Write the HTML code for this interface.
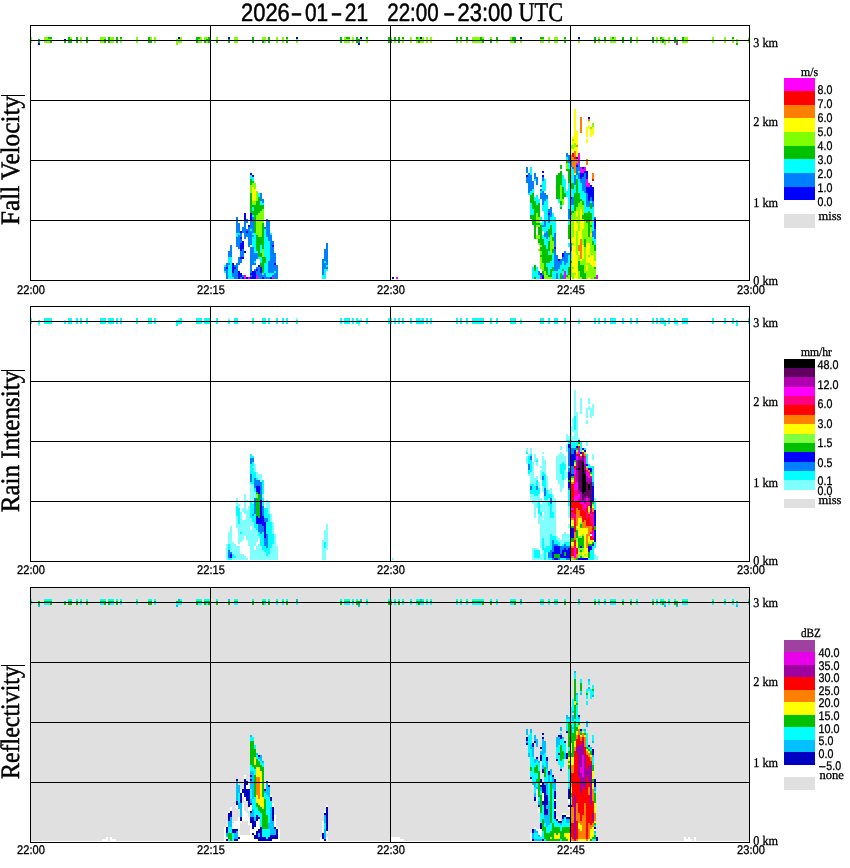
<!DOCTYPE html>
<html lang="en"><head><meta charset="utf-8"><title>2026-01-21 22:00-23:00 UTC</title>
<style>html,body{margin:0;padding:0;background:#fff}svg{display:block}</style></head>
<body>
<svg width="850" height="868" viewBox="0 0 850 868" shape-rendering="crispEdges" text-rendering="geometricPrecision">
<style>.sa{font-family:"Liberation Sans",sans-serif}.se{font-family:"Liberation Serif",serif}text{fill:#000}</style>
<rect x="0" y="0" width="850" height="868" fill="#ffffff"/>
<rect x="30" y="587" width="720" height="254" fill="#e0e0e0"/>
<g id="cells">
<path fill="#00c000" d="M208 37h2v2h-2zM286 37h2v2h-2zM564 37h2v2h-2zM560 165h2v4h-2zM250 179h2v2h-2zM250 183h2v2h-2zM562 187h2v6h-2zM560 171h2v2h-2zM574 193h6v6h-6zM250 193h2v12h-2zM560 201h2v4h-2zM570 183h4v6h-4zM538 203h2v2h-2zM530 201h6v2h-6zM532 203h4v2h-4zM584 213h8v2h-8zM262 41h2v2h-2zM532 205h8v4h-8zM588 211h2v2h-2zM534 213h2v2h-2zM568 171h2v12h-2zM588 223h2v2h-2zM540 225h2v2h-2zM548 235h2v2h-2zM540 37h4v2h-4zM256 201h4v4h-4zM262 223h2v14h-2zM594 37h2v6h-2zM552 237h2v4h-2zM258 197h2v4h-2zM570 213h2v2h-2zM534 225h2v14h-2zM262 245h2v4h-2zM552 249h2v4h-2zM568 225h2v14h-2zM594 245h2v6h-2zM562 197h2v2h-2zM550 225h2v4h-2zM560 207h2v2h-2zM548 229h4v6h-4zM566 161h2v2h-2zM534 265h2v6h-2zM594 267h2v2h-2zM48 37h4v2h-4zM68 37h2v2h-2zM76 37h2v6h-2zM86 37h2v6h-2zM108 37h2v6h-2zM116 37h2v6h-2zM120 37h2v2h-2zM148 37h2v4h-2zM196 37h4v2h-4zM208 41h2v2h-2zM252 37h2v6h-2zM268 37h2v6h-2zM286 41h2v2h-2zM340 37h2v6h-2zM346 37h4v2h-4zM356 37h2v2h-2zM366 37h2v2h-2zM388 37h2v2h-2zM394 37h2v4h-2zM398 37h2v6h-2zM402 37h2v2h-2zM416 37h2v2h-2zM456 37h2v4h-2zM460 37h2v2h-2zM466 37h2v4h-2zM480 37h2v2h-2zM496 37h2v4h-2zM512 37h4v4h-4zM540 243h4v2h-4zM564 41h2v2h-2zM594 277h2v2h-2zM604 37h2v4h-2zM612 37h2v2h-2zM622 37h2v6h-2zM630 37h2v6h-2zM652 37h2v6h-2zM660 37h2v2h-2zM674 37h2v4h-2zM682 37h2v4h-2zM732 37h2v2h-2zM38 39h2v4h-2zM68 39h4v4h-4zM104 39h2v4h-2zM196 39h2v4h-2zM206 39h4v2h-4zM228 39h2v4h-2zM356 39h4v4h-4zM388 39h4v4h-4zM480 39h4v2h-4zM490 39h2v4h-2zM598 39h2v2h-2zM662 39h2v4h-2zM748 39h2v2h-2zM50 41h2v2h-2zM64 41h2v2h-2zM148 41h4v2h-4zM204 41h2v2h-2zM216 41h2v2h-2zM262 267h2v6h-2zM418 41h2v2h-2zM482 41h2v2h-2zM514 41h2v2h-2zM674 41h4v2h-4zM736 43h2v2h-2zM566 275h2v2h-2zM560 273h2v6h-2zM566 169h4v2h-4zM568 267h2v8h-2zM558 173h4v2h-4zM556 175h6v10h-6zM250 207h2v4h-2zM576 179h2v14h-2zM250 181h4v2h-4zM570 211h4v2h-4zM556 185h4v14h-4zM562 269h2v2h-2zM532 193h2v2h-2zM562 193h4v4h-4zM574 201h6v2h-6zM530 195h4v6h-4zM258 251h2v2h-2zM574 199h8v2h-8zM256 245h4v6h-4zM530 215h6v4h-6zM582 201h2v4h-2zM532 219h4v4h-4zM538 213h2v4h-2zM574 203h4v4h-4zM590 203h2v6h-2zM250 205h14v2h-14zM532 223h8v2h-8zM254 207h10v2h-10zM574 207h2v4h-2zM254 209h8v2h-8zM534 209h6v4h-6zM250 211h10v2h-10zM588 227h2v10h-2zM252 213h6v2h-6zM534 277h2v2h-2zM570 261h2v2h-2zM584 219h8v2h-8zM254 215h2v18h-2zM582 215h10v4h-10zM586 221h4v2h-4zM540 235h2v4h-2zM550 271h2v4h-2zM588 225h4v2h-4zM538 227h4v8h-4zM548 275h4v2h-4zM256 235h2v2h-2zM548 241h2v8h-2zM256 237h8v8h-8zM552 267h2v2h-2zM538 239h6v4h-6zM584 239h2v8h-2zM592 241h2v4h-2zM542 245h4v2h-4zM540 247h6v2h-6zM540 249h10v2h-10zM542 251h6v4h-6zM258 253h4v4h-4zM540 255h12v2h-12zM262 257h4v6h-4zM542 257h10v4h-10zM542 261h8v2h-8zM578 261h2v4h-2zM260 263h4v4h-4zM544 263h2v4h-2zM578 265h6v6h-6zM544 267h4v4h-4zM550 269h4v2h-4zM542 271h2v4h-2zM546 271h2v4h-2zM580 271h4v2h-4zM580 273h6v4h-6zM582 277h4v2h-4z"/>
<path fill="#80ff00" d="M598 37h2v2h-2zM748 37h2v2h-2zM252 183h4v2h-4zM574 143h2v2h-2zM578 39h2v4h-2zM570 147h4v2h-4zM578 211h2v6h-2zM582 209h2v6h-2zM576 209h4v2h-4zM590 127h2v2h-2zM578 219h2v2h-2zM536 217h4v6h-4zM590 221h2v4h-2zM536 225h4v2h-4zM582 219h2v2h-2zM572 139h2v2h-2zM590 227h2v6h-2zM584 221h2v2h-2zM262 209h2v2h-2zM538 243h2v2h-2zM550 235h2v6h-2zM540 245h2v2h-2zM578 223h2v8h-2zM540 251h2v4h-2zM540 39h4v4h-4zM570 237h2v6h-2zM584 247h2v12h-2zM570 219h4v18h-4zM570 263h2v4h-2zM578 255h2v6h-2zM570 145h6v2h-6zM572 243h2v2h-2zM578 203h4v2h-4zM590 245h4v6h-4zM30 37h2v6h-2zM44 37h4v2h-4zM70 37h2v2h-2zM80 37h2v6h-2zM100 37h6v2h-6zM110 37h4v6h-4zM136 37h2v6h-2zM150 37h2v4h-2zM154 37h2v6h-2zM180 37h2v2h-2zM200 37h2v2h-2zM204 37h4v2h-4zM216 37h2v4h-2zM234 37h4v6h-4zM262 37h4v4h-4zM276 37h2v6h-2zM282 37h2v6h-2zM344 37h2v2h-2zM352 37h2v6h-2zM390 37h2v2h-2zM410 37h2v6h-2zM418 37h2v2h-2zM422 37h2v2h-2zM426 37h2v6h-2zM430 37h2v6h-2zM472 37h8v4h-8zM482 37h2v2h-2zM490 37h2v2h-2zM510 37h2v4h-2zM548 37h2v6h-2zM554 37h4v6h-4zM598 41h2v2h-2zM610 37h2v2h-2zM614 37h2v2h-2zM636 37h2v6h-2zM656 37h2v6h-2zM662 37h2v2h-2zM668 37h2v6h-2zM684 37h4v4h-4zM712 37h2v6h-2zM724 37h2v6h-2zM748 41h2v2h-2zM44 39h8v2h-8zM100 39h4v4h-4zM120 39h2v4h-2zM176 39h6v4h-6zM198 39h4v4h-4zM204 39h2v2h-2zM286 39h2v2h-2zM296 39h2v4h-2zM344 39h6v4h-6zM360 39h2v2h-2zM366 39h2v4h-2zM402 39h2v4h-2zM416 39h8v2h-8zM460 39h2v4h-2zM520 39h2v4h-2zM540 263h4v6h-4zM564 39h2v2h-2zM578 271h2v6h-2zM610 39h6v4h-6zM660 39h2v4h-2zM664 39h2v6h-2zM676 39h2v2h-2zM732 39h2v4h-2zM736 39h2v4h-2zM44 41h6v2h-6zM206 41h2v2h-2zM264 41h2v2h-2zM394 41h2v2h-2zM416 41h2v2h-2zM420 41h4v2h-4zM456 41h2v2h-2zM466 41h2v2h-2zM472 41h10v2h-10zM496 41h2v2h-2zM510 41h4v2h-4zM604 41h2v2h-2zM682 41h6v2h-6zM176 43h2v2h-2zM592 123h2v4h-2zM590 243h2v2h-2zM572 277h2v2h-2zM574 211h2v2h-2zM570 273h6v2h-6zM570 267h4v2h-4zM566 163h2v6h-2zM252 201h4v4h-4zM250 185h6v2h-6zM560 185h2v14h-2zM250 187h2v6h-2zM254 187h2v2h-2zM256 191h2v10h-2zM560 199h4v2h-4zM562 201h2v4h-2zM580 201h2v2h-2zM578 277h4v2h-4zM578 205h6v2h-6zM576 207h8v2h-8zM262 249h2v8h-2zM576 221h4v2h-4zM582 239h2v6h-2zM260 211h4v2h-4zM258 213h6v2h-6zM536 213h2v4h-2zM572 213h4v4h-4zM256 215h8v8h-8zM536 235h4v4h-4zM572 217h8v2h-8zM584 265h2v6h-2zM256 223h6v12h-6zM584 223h4v6h-4zM582 229h6v8h-6zM576 231h2v24h-2zM258 235h4v2h-4zM550 249h2v6h-2zM570 269h2v4h-2zM582 237h10v2h-10zM586 239h6v4h-6zM550 241h4v8h-4zM538 249h2v2h-2zM540 257h2v6h-2zM590 277h4v2h-4zM590 251h6v4h-6zM588 255h2v2h-2zM594 255h2v6h-2zM582 259h4v2h-4zM580 261h6v2h-6zM580 263h10v2h-10zM588 265h4v2h-4zM588 267h6v2h-6zM542 269h2v2h-2zM588 269h8v2h-8zM544 271h2v4h-2zM584 271h12v2h-12zM586 273h10v4h-10zM544 275h4v2h-4zM568 275h6v2h-6zM544 277h8v2h-8zM566 277h4v2h-4zM586 277h2v2h-2z"/>
<path fill="#ffff00" d="M588 121h2v2h-2zM574 131h4v6h-4zM586 129h2v8h-2zM572 137h6v2h-6zM574 139h4v2h-4zM576 143h2v2h-2zM574 109h2v22h-2zM576 151h2v6h-2zM574 147h4v2h-4zM574 173h2v2h-2zM574 219h4v2h-4zM580 209h2v12h-2zM574 221h2v2h-2zM590 135h2v2h-2zM574 231h2v6h-2zM586 127h4v2h-4zM572 237h4v6h-4zM578 239h2v6h-2zM572 141h6v2h-6zM586 139h2v4h-2zM590 129h4v6h-4zM580 229h2v2h-2zM586 255h2v2h-2zM574 223h4v8h-4zM572 255h6v12h-6zM576 211h2v6h-2zM574 267h4v2h-4zM570 151h2v4h-2zM588 125h2v2h-2zM574 243h2v2h-2zM588 277h2v2h-2zM586 243h4v12h-4zM592 127h2v2h-2zM586 265h2v6h-2zM590 255h4v2h-4zM574 275h4v4h-4zM590 233h2v4h-2zM572 269h6v4h-6zM572 143h2v2h-2zM576 273h2v2h-2zM570 149h8v2h-8zM570 277h2v2h-2zM252 187h2v2h-2zM252 189h4v12h-4zM580 259h2v2h-2zM580 221h4v8h-4zM578 231h4v8h-4zM572 245h4v10h-4zM578 251h2v4h-2zM582 245h2v14h-2zM586 257h8v4h-8zM586 261h10v2h-10zM590 263h6v2h-6zM592 265h4v2h-4z"/>
<path fill="#0000ff" d="M576 157h2v2h-2zM542 171h2v2h-2zM588 117h2v2h-2zM250 173h2v2h-2zM240 231h2v2h-2zM240 237h2v2h-2zM244 213h2v8h-2zM240 243h4v6h-4zM232 263h2v4h-2zM252 271h4v2h-4zM542 175h2v2h-2zM238 271h2v2h-2zM242 241h2v2h-2zM246 231h2v2h-2zM250 273h6v2h-6zM178 37h2v2h-2zM228 37h2v2h-2zM296 37h2v2h-2zM360 37h2v2h-2zM420 37h2v2h-2zM520 37h2v2h-2zM578 37h2v2h-2zM64 39h2v2h-2zM38 43h2v2h-2zM358 43h2v2h-2zM588 197h2v4h-2zM576 165h2v2h-2zM582 167h2v2h-2zM542 275h2v4h-2zM584 171h4v2h-4zM250 213h2v8h-2zM580 173h4v4h-4zM586 173h2v6h-2zM252 175h2v2h-2zM526 175h2v2h-2zM580 177h2v2h-2zM590 185h2v2h-2zM586 187h8v6h-8zM588 193h6v4h-6zM570 197h2v2h-2zM592 197h2v4h-2zM244 251h2v2h-2zM548 213h2v2h-2zM594 219h2v10h-2zM248 225h2v2h-2zM240 249h2v2h-2zM246 277h2v2h-2zM242 277h2v2h-2zM240 257h4v2h-4zM272 245h2v2h-2zM554 247h2v2h-2zM562 253h2v4h-2zM558 259h2v2h-2zM232 269h2v4h-2zM274 263h2v2h-2zM258 265h2v2h-2zM226 267h2v2h-2zM232 267h4v2h-4zM260 267h2v6h-2zM256 269h2v2h-2zM238 277h2v2h-2zM252 275h4v2h-4zM238 273h4v4h-4zM250 277h6v2h-6zM540 273h2v2h-2zM262 277h2v2h-2zM270 277h2v2h-2zM392 277h2v2h-2z"/>
<path fill="#ff8000" d="M574 151h2v6h-2zM580 117h2v16h-2zM580 239h2v6h-2zM580 251h2v8h-2zM588 119h2v2h-2zM576 145h2v2h-2zM574 167h2v6h-2zM570 155h2v2h-2zM570 157h4v2h-4zM570 159h8v2h-8zM586 159h2v6h-2zM572 161h6v2h-6zM572 163h4v4h-4zM592 173h2v6h-2zM578 245h4v6h-4z"/>
<path fill="#0080ff" d="M576 167h4v4h-4zM578 163h2v4h-2zM582 177h4v2h-4zM528 175h4v2h-4zM540 185h2v2h-2zM528 173h2v2h-2zM542 177h2v4h-2zM584 173h2v4h-2zM572 167h2v2h-2zM542 191h2v2h-2zM568 157h2v4h-2zM550 207h2v2h-2zM548 209h4v4h-4zM542 199h4v2h-4zM252 217h2v4h-2zM266 221h4v6h-4zM594 217h2v2h-2zM242 227h4v2h-4zM248 227h6v2h-6zM236 223h4v10h-4zM244 223h2v4h-2zM546 231h2v2h-2zM594 229h2v2h-2zM236 237h4v2h-4zM570 163h2v4h-2zM250 221h4v6h-4zM270 241h4v4h-4zM554 233h2v14h-2zM238 247h2v2h-2zM238 235h4v2h-4zM250 247h4v6h-4zM326 243h2v6h-2zM564 255h4v2h-4zM236 243h4v4h-4zM250 259h6v2h-6zM322 259h6v2h-6zM564 251h2v2h-2zM236 217h2v6h-2zM322 263h6v2h-6zM234 265h4v2h-4zM322 261h2v2h-2zM554 255h4v6h-4zM226 265h2v2h-2zM256 267h4v2h-4zM268 263h6v2h-6zM242 249h2v2h-2zM250 265h2v8h-2zM540 189h2v2h-2zM234 269h4v4h-4zM240 233h2v2h-2zM264 227h6v2h-6zM274 273h4v2h-4zM566 153h2v2h-2zM566 155h4v2h-4zM568 209h2v10h-2zM568 161h4v2h-4zM570 243h2v8h-2zM578 175h2v4h-2zM526 167h2v6h-2zM572 197h2v2h-2zM576 173h4v2h-4zM576 171h2v2h-2zM528 191h2v2h-2zM534 173h2v4h-2zM584 191h2v2h-2zM528 189h4v2h-4zM574 175h2v10h-2zM526 177h6v4h-6zM534 177h4v2h-4zM542 201h2v4h-2zM582 183h4v8h-4zM536 179h2v6h-2zM580 179h6v4h-6zM526 181h8v2h-8zM528 183h6v6h-6zM540 275h2v2h-2zM260 193h2v6h-2zM540 193h6v2h-6zM586 193h2v8h-2zM540 195h8v4h-8zM590 197h2v4h-2zM260 199h4v2h-4zM542 225h4v2h-4zM570 199h4v6h-4zM262 201h2v2h-2zM586 201h4v6h-4zM592 201h2v6h-2zM550 213h2v2h-2zM548 215h4v2h-4zM236 267h2v2h-2zM252 229h2v2h-2zM548 217h2v6h-2zM594 237h2v2h-2zM246 219h2v2h-2zM266 219h2v2h-2zM244 221h4v2h-4zM250 261h4v2h-4zM266 229h4v6h-4zM544 221h2v4h-2zM236 263h4v2h-4zM244 237h2v2h-2zM242 231h4v2h-4zM248 231h6v2h-6zM264 277h6v2h-6zM242 229h8v2h-8zM546 237h2v2h-2zM592 231h4v6h-4zM240 277h2v2h-2zM244 233h8v2h-8zM544 233h4v4h-4zM554 249h2v6h-2zM238 259h4v4h-4zM244 235h10v2h-10zM266 235h6v2h-6zM248 237h4v8h-4zM268 237h4v4h-4zM236 239h6v4h-6zM270 247h4v6h-4zM326 261h2v2h-2zM230 245h2v6h-2zM248 245h2v2h-2zM270 245h2v2h-2zM238 257h2v2h-2zM242 275h2v2h-2zM324 249h4v10h-4zM228 251h4v6h-4zM240 251h4v6h-4zM564 263h2v2h-2zM250 253h8v6h-8zM270 253h6v8h-6zM564 253h6v2h-6zM554 269h4v2h-4zM564 261h4v2h-4zM562 257h6v2h-6zM250 263h6v2h-6zM322 267h6v2h-6zM560 259h8v2h-8zM268 261h8v2h-8zM322 269h2v6h-2zM554 261h8v4h-8zM226 263h4v2h-4zM268 271h6v2h-6zM226 271h2v8h-2zM234 277h4v2h-4zM250 275h2v2h-2zM268 265h10v6h-10zM322 265h4v2h-4zM554 265h6v4h-6zM224 267h2v2h-2zM256 271h4v2h-4zM224 269h4v2h-4zM254 269h2v2h-2zM258 269h2v2h-2zM276 271h2v2h-2zM538 271h2v4h-2zM232 273h6v4h-6zM256 273h6v2h-6zM264 273h2v2h-2zM274 277h4v2h-4zM556 273h2v6h-2zM258 275h8v2h-8zM272 275h6v2h-6zM562 275h2v4h-2zM258 277h4v2h-4z"/>
<path fill="#00ffff" d="M578 171h2v2h-2zM568 163h2v4h-2zM568 183h2v6h-2zM530 167h2v8h-2zM536 195h2v2h-2zM252 179h2v2h-2zM530 191h4v2h-4zM570 169h4v14h-4zM544 201h4v4h-4zM592 207h2v2h-2zM252 207h2v4h-2zM540 191h2v2h-2zM568 197h2v8h-2zM546 199h2v2h-2zM250 175h2v2h-2zM542 205h6v6h-6zM544 179h2v2h-2zM552 213h2v4h-2zM542 221h2v2h-2zM252 233h4v2h-4zM542 181h4v10h-4zM592 213h2v18h-2zM544 211h4v10h-4zM568 219h2v6h-2zM260 201h2v2h-2zM546 221h2v2h-2zM254 235h2v2h-2zM548 237h2v2h-2zM570 215h2v4h-2zM552 233h2v4h-2zM568 167h4v2h-4zM260 245h2v8h-2zM254 247h2v4h-2zM562 175h2v4h-2zM568 243h2v4h-2zM264 237h4v4h-4zM228 257h4v6h-4zM532 189h2v2h-2zM536 203h2v2h-2zM548 251h2v4h-2zM224 265h2v2h-2zM324 261h2v2h-2zM566 157h2v4h-2zM552 225h4v8h-4zM558 199h2v4h-2zM562 261h2v4h-2zM532 267h2v4h-2zM536 201h4v2h-4zM566 271h2v4h-2zM568 261h2v2h-2zM530 203h2v6h-2zM568 255h4v6h-4zM570 209h4v2h-4zM578 179h2v4h-2zM250 229h2v2h-2zM562 273h2v2h-2zM576 175h2v4h-2zM250 177h4v2h-4zM252 215h2v2h-2zM534 179h2v2h-2zM544 231h2v2h-2zM562 179h4v8h-4zM542 237h4v2h-4zM578 183h4v8h-4zM574 185h2v4h-2zM564 187h2v4h-2zM532 277h2v2h-2zM568 189h8v2h-8zM530 209h4v6h-4zM540 217h2v4h-2zM564 191h12v2h-12zM578 191h6v2h-6zM258 193h2v4h-2zM528 193h4v2h-4zM566 193h8v4h-8zM580 193h6v6h-6zM536 267h2v4h-2zM534 197h4v2h-4zM534 199h6v2h-6zM546 245h2v4h-2zM558 273h2v6h-2zM582 199h4v2h-4zM260 259h2v4h-2zM536 277h4v2h-4zM544 241h4v4h-4zM584 201h2v6h-2zM590 201h2v2h-2zM260 203h4v2h-4zM542 229h6v2h-6zM560 205h2v2h-2zM568 205h6v4h-6zM584 207h6v2h-6zM592 237h2v2h-2zM584 209h10v2h-10zM584 211h4v2h-4zM590 211h4v2h-4zM552 253h2v8h-2zM570 251h2v4h-2zM550 217h6v6h-6zM542 235h2v2h-2zM540 223h4v2h-4zM546 223h10v2h-10zM546 225h4v2h-4zM552 273h4v6h-4zM542 227h8v2h-8zM264 229h2v8h-2zM236 233h4v2h-4zM252 237h4v10h-4zM270 233h2v2h-2zM236 235h2v2h-2zM254 261h2v2h-2zM264 263h4v10h-4zM548 269h2v6h-2zM544 239h6v2h-6zM592 239h4v2h-4zM264 241h6v16h-6zM594 241h2v4h-2zM254 251h4v2h-4zM228 265h4v12h-4zM258 257h4v2h-4zM266 257h4v4h-4zM266 261h2v2h-2zM324 271h2v4h-2zM550 261h4v2h-4zM230 263h2v2h-2zM546 263h8v4h-8zM566 263h4v2h-4zM224 271h2v2h-2zM326 265h2v2h-2zM560 265h10v2h-10zM548 267h4v2h-4zM560 267h8v2h-8zM324 269h4v2h-4zM558 269h4v2h-4zM564 269h4v2h-4zM274 271h2v2h-2zM532 271h6v4h-6zM552 271h12v2h-12zM262 273h2v2h-2zM266 273h8v2h-8zM266 275h6v2h-6zM322 275h4v4h-4zM532 275h8v2h-8zM228 277h6v2h-6z"/>
<path fill="#ff00ff" d="M676 43h2v2h-2zM578 153h2v10h-2zM576 163h2v2h-2zM580 167h2v2h-2zM584 167h2v2h-2zM580 169h6v2h-6zM580 171h4v2h-4zM586 179h2v4h-2zM586 183h4v4h-4zM564 271h2v8h-2zM244 275h2v4h-2zM256 275h2v4h-2zM596 275h2v4h-2zM248 277h2v2h-2zM272 277h2v2h-2zM396 277h2v2h-2zM540 277h2v2h-2z"/>
<path fill="#ff0000" d="M572 153h2v4h-2zM574 157h2v2h-2zM592 179h2v2h-2z"/>
<path fill="#80ffff" d="M588 398h2v6h-2zM586 410h2v8h-2zM574 412h4v4h-4zM586 420h2v4h-2zM566 434h2v2h-2zM560 446h2v4h-2zM592 404h2v4h-2zM526 448h2v4h-2zM542 452h2v2h-2zM534 454h2v4h-2zM254 464h2v2h-2zM542 460h4v6h-4zM540 466h6v2h-6zM564 462h2v2h-2zM556 462h6v2h-6zM530 472h4v2h-4zM536 462h2v4h-2zM564 470h2v2h-2zM558 454h6v2h-6zM534 460h2v2h-2zM542 456h2v4h-2zM560 452h2v2h-2zM530 476h4v2h-4zM538 482h2v6h-2zM250 484h4v8h-4zM244 494h2v6h-2zM534 458h4v2h-4zM534 484h2v2h-2zM544 500h6v2h-6zM538 494h2v2h-2zM236 498h2v6h-2zM568 506h2v12h-2zM252 502h2v2h-2zM252 466h4v2h-4zM238 506h2v2h-2zM564 478h2v2h-2zM238 530h20v2h-20zM540 506h10v6h-10zM552 498h4v14h-4zM540 472h2v8h-2zM544 512h6v4h-6zM556 464h4v10h-4zM238 532h2v2h-2zM326 524h2v6h-2zM560 484h4v4h-4zM560 488h2v4h-2zM250 498h4v4h-4zM256 474h6v4h-6zM544 472h2v2h-2zM322 540h6v2h-6zM532 502h6v2h-6zM532 462h2v10h-2zM542 486h2v6h-2zM546 476h2v14h-2zM594 498h2v4h-2zM178 318h2v2h-2zM228 318h2v2h-2zM296 318h2v2h-2zM360 318h2v2h-2zM420 318h2v2h-2zM520 318h2v2h-2zM578 318h2v2h-2zM64 320h2v2h-2zM38 324h2v2h-2zM358 324h2v2h-2zM676 324h2v2h-2zM574 390h2v22h-2zM580 398h2v16h-2zM588 406h2v2h-2zM592 454h2v6h-2zM586 408h8v2h-8zM586 442h2v4h-2zM590 410h4v6h-4zM574 432h4v4h-4zM576 416h2v14h-2zM590 416h2v2h-2zM572 418h2v8h-2zM570 426h4v4h-4zM570 430h8v2h-8zM570 432h2v4h-2zM566 444h2v8h-2zM566 436h12v2h-12zM566 438h14v2h-14zM572 440h6v2h-6zM560 544h2v2h-2zM526 456h2v8h-2zM530 448h2v6h-2zM542 550h2v4h-2zM528 454h2v2h-2zM534 508h2v10h-2zM558 480h6v4h-6zM556 456h10v6h-10zM534 504h4v4h-4zM542 468h4v2h-4zM532 550h2v8h-2zM536 476h2v2h-2zM556 474h6v6h-6zM564 532h2v2h-2zM254 468h2v4h-2zM556 538h4v2h-4zM252 528h4v2h-4zM540 470h6v2h-6zM256 472h2v2h-2zM530 494h4v2h-4zM540 538h2v10h-2zM544 546h2v2h-2zM564 472h4v6h-4zM256 546h6v4h-6zM528 474h6v2h-6zM546 552h2v8h-2zM258 478h4v2h-4zM530 478h8v2h-8zM260 480h2v2h-2zM530 480h6v4h-6zM538 514h2v2h-2zM250 546h4v4h-4zM560 542h4v2h-4zM550 488h2v2h-2zM548 490h4v4h-4zM250 492h6v6h-6zM244 502h2v6h-2zM262 494h2v4h-2zM552 494h2v4h-2zM530 496h10v2h-10zM236 516h2v8h-2zM530 498h12v2h-12zM548 498h2v2h-2zM552 534h4v2h-4zM594 554h2v2h-2zM244 500h4v2h-4zM266 500h2v2h-2zM532 500h10v2h-10zM544 538h6v8h-6zM252 526h2v2h-2zM266 502h4v6h-4zM532 548h6v2h-6zM542 502h6v2h-6zM236 504h4v2h-4zM540 504h8v2h-8zM238 542h2v2h-2zM248 506h2v4h-2zM540 534h10v4h-10zM568 524h2v4h-2zM242 508h4v2h-4zM268 508h2v6h-2zM242 510h8v2h-8zM240 512h2v8h-2zM244 512h6v2h-6zM554 512h2v6h-2zM246 514h4v4h-4zM270 514h2v8h-2zM538 516h12v2h-12zM246 518h6v2h-6zM538 518h4v2h-4zM544 518h12v2h-12zM240 520h12v2h-12zM538 520h18v4h-18zM240 522h14v2h-14zM272 522h2v12h-2zM236 524h18v2h-18zM326 542h2v6h-2zM540 524h16v10h-16zM230 526h2v6h-2zM236 526h14v2h-14zM238 528h12v2h-12zM238 534h20v2h-20zM324 530h4v10h-4zM228 532h4v10h-4zM242 532h16v2h-16zM274 534h2v10h-2zM562 534h8v6h-8zM238 536h6v4h-6zM246 536h14v2h-14zM556 536h2v2h-2zM246 538h12v2h-12zM238 540h4v2h-4zM248 540h10v2h-10zM322 548h6v2h-6zM558 540h12v2h-12zM228 542h6v2h-6zM248 542h8v4h-8zM322 542h2v6h-2zM226 544h2v16h-2zM230 544h6v2h-6zM258 544h2v2h-2zM272 544h4v2h-4zM230 546h10v6h-10zM272 546h6v2h-6zM270 548h8v6h-8zM250 550h14v2h-14zM322 550h4v10h-4zM232 552h8v2h-8zM250 552h16v4h-16zM234 554h10v2h-10zM268 554h10v2h-10zM540 554h4v4h-4zM236 556h10v2h-10zM250 556h28v4h-28zM594 556h4v4h-4zM232 558h16v2h-16zM392 558h2v2h-2zM532 558h12v2h-12z"/>
<path fill="#00ffff" d="M252 318h2v6h-2zM250 456h4v2h-4zM530 454h2v2h-2zM250 454h2v2h-2zM250 464h4v2h-4zM528 460h4v4h-4zM528 456h2v4h-2zM562 462h2v2h-2zM252 462h2v2h-2zM536 460h2v2h-2zM542 474h4v2h-4zM250 468h4v4h-4zM544 476h2v4h-2zM568 466h2v2h-2zM262 480h2v14h-2zM250 466h2v2h-2zM538 488h2v2h-2zM548 318h2v6h-2zM594 318h2v6h-2zM250 482h4v2h-4zM250 502h2v2h-2zM254 488h2v4h-2zM250 472h6v2h-6zM252 474h4v4h-4zM268 318h2v6h-2zM254 514h2v2h-2zM256 478h2v2h-2zM262 498h2v8h-2zM550 506h2v6h-2zM542 472h2v2h-2zM550 534h2v2h-2zM554 318h4v6h-4zM594 502h2v8h-2zM228 320h2v4h-2zM562 474h2v6h-2zM262 318h4v6h-4zM546 494h6v2h-6zM592 468h2v14h-2zM264 514h6v4h-6zM544 486h2v2h-2zM548 504h4v2h-4zM560 464h6v6h-6zM588 466h6v2h-6zM30 318h2v6h-2zM44 318h8v6h-8zM68 318h4v6h-4zM76 318h2v6h-2zM80 318h2v6h-2zM86 318h2v6h-2zM100 318h6v6h-6zM108 318h6v6h-6zM116 318h2v6h-2zM120 318h2v6h-2zM136 318h2v6h-2zM148 318h4v6h-4zM154 318h2v6h-2zM180 318h2v2h-2zM196 318h6v6h-6zM204 318h6v6h-6zM216 318h2v6h-2zM234 318h4v6h-4zM252 478h2v4h-2zM262 546h4v2h-4zM268 518h2v4h-2zM276 318h2v6h-2zM282 318h2v6h-2zM286 318h2v6h-2zM340 318h2v6h-2zM344 318h6v6h-6zM352 318h2v6h-2zM356 318h2v2h-2zM366 318h2v6h-2zM388 318h4v6h-4zM394 318h2v6h-2zM398 318h2v6h-2zM402 318h2v6h-2zM410 318h2v6h-2zM416 318h4v2h-4zM422 318h2v2h-2zM426 318h2v6h-2zM430 318h2v6h-2zM456 318h2v6h-2zM460 318h2v6h-2zM466 318h2v6h-2zM472 318h12v6h-12zM490 318h2v6h-2zM496 318h2v6h-2zM510 318h6v6h-6zM540 318h4v6h-4zM548 502h2v2h-2zM554 540h4v2h-4zM564 318h2v6h-2zM594 542h2v4h-2zM598 318h2v6h-2zM604 318h2v6h-2zM610 318h6v6h-6zM622 318h2v6h-2zM630 318h2v6h-2zM636 318h2v6h-2zM652 318h2v6h-2zM656 318h2v6h-2zM660 318h4v2h-4zM668 318h2v6h-2zM674 318h2v2h-2zM682 318h6v6h-6zM712 318h2v6h-2zM724 318h2v6h-2zM732 318h2v6h-2zM748 318h2v6h-2zM38 320h2v4h-2zM176 320h6v4h-6zM228 544h2v6h-2zM296 320h2v4h-2zM356 320h6v2h-6zM416 320h8v4h-8zM520 320h2v4h-2zM578 320h2v4h-2zM660 320h6v4h-6zM674 320h4v4h-4zM736 320h2v6h-2zM64 322h2v2h-2zM356 322h4v2h-4zM176 324h2v2h-2zM664 324h2v2h-2zM574 416h2v14h-2zM566 440h6v2h-6zM568 442h10v2h-10zM580 442h2v10h-2zM570 444h8v2h-8zM570 446h6v2h-6zM584 448h2v2h-2zM526 452h2v2h-2zM250 514h2v2h-2zM530 464h2v6h-2zM586 454h2v10h-2zM250 504h4v10h-4zM528 472h2v2h-2zM528 470h4v2h-4zM536 480h2v6h-2zM562 544h2v2h-2zM560 558h6v2h-6zM588 464h2v2h-2zM568 490h2v16h-2zM588 558h6v2h-6zM592 548h2v2h-2zM560 470h4v4h-4zM250 516h6v2h-6zM542 538h2v10h-2zM252 518h4v4h-4zM542 480h4v6h-4zM544 552h2v8h-2zM256 528h2v2h-2zM262 532h2v2h-2zM530 484h4v2h-4zM532 486h4v4h-4zM254 522h2v2h-2zM538 502h2v10h-2zM530 490h10v4h-10zM546 490h2v4h-2zM534 494h4v2h-4zM546 546h6v2h-6zM544 496h8v2h-8zM544 498h4v2h-4zM548 558h4v2h-4zM236 506h2v2h-2zM550 540h2v6h-2zM236 508h4v8h-4zM264 508h4v6h-4zM538 512h4v2h-4zM550 512h4v6h-4zM264 550h6v2h-6zM540 514h2v2h-2zM238 516h2v8h-2zM266 522h6v12h-6zM254 524h4v4h-4zM240 532h2v2h-2zM258 532h2v2h-2zM258 534h6v2h-6zM268 534h6v10h-6zM260 536h4v10h-4zM550 536h6v4h-6zM324 542h2v6h-2zM554 542h6v2h-6zM564 542h6v2h-6zM268 544h4v4h-4zM558 544h2v2h-2zM566 544h4v2h-4zM592 546h4v2h-4zM262 548h8v2h-8zM542 548h10v2h-10zM534 550h6v8h-6zM544 550h6v2h-6zM590 550h4v8h-4zM266 552h4v2h-4zM232 554h2v2h-2zM266 554h2v2h-2zM232 556h4v2h-4zM228 558h4v2h-4z"/>
<path fill="#0080ff" d="M568 450h6v4h-6zM570 466h4v2h-4zM250 462h2v2h-2zM254 478h2v2h-2zM530 456h2v4h-2zM568 454h2v12h-2zM254 486h2v2h-2zM260 486h2v14h-2zM264 518h4v4h-4zM266 534h2v4h-2zM552 540h2v4h-2zM228 550h2v2h-2zM552 546h2v4h-2zM568 448h8v2h-8zM568 468h6v4h-6zM568 488h2v2h-2zM530 486h2v4h-2zM250 458h4v4h-4zM250 474h2v8h-2zM528 464h2v6h-2zM570 472h4v2h-4zM542 476h2v4h-2zM254 498h2v16h-2zM254 480h6v2h-6zM254 482h8v4h-8zM592 482h2v4h-2zM260 532h2v2h-2zM536 486h2v4h-2zM544 488h2v8h-2zM550 498h2v6h-2zM262 506h2v10h-2zM252 514h2v2h-2zM264 538h4v8h-4zM258 524h4v2h-4zM258 526h6v6h-6zM266 546h2v2h-2zM552 558h2v2h-2zM552 544h6v2h-6zM564 544h2v2h-2zM560 546h10v2h-10zM560 548h4v2h-4zM566 548h2v2h-2zM228 554h2v4h-2zM550 550h4v2h-4zM560 550h2v4h-2zM228 552h4v2h-4zM548 552h4v6h-4zM558 558h2v2h-2zM566 558h4v2h-4z"/>
<path fill="#b000b0" d="M576 460h2v8h-2zM578 454h2v4h-2zM578 458h4v2h-4zM586 476h2v2h-2zM584 464h2v6h-2zM588 482h2v2h-2zM584 498h2v2h-2zM578 490h2v2h-2zM582 454h2v2h-2zM578 492h4v2h-4zM576 470h2v12h-2zM584 502h2v2h-2zM586 496h2v2h-2zM586 478h6v4h-6zM588 498h2v4h-2zM580 494h2v6h-2zM580 500h6v2h-6zM590 508h2v6h-2z"/>
<path fill="#600060" d="M578 462h4v6h-4zM580 468h2v2h-2zM582 456h2v4h-2zM590 482h2v8h-2zM582 498h2v2h-2zM578 460h6v2h-6zM578 470h4v20h-4zM576 468h2v2h-2zM580 490h2v2h-2zM584 470h2v4h-2zM586 482h2v8h-2zM590 498h2v10h-2zM586 490h6v2h-6zM584 492h8v2h-8zM582 494h10v2h-10zM582 496h4v2h-4zM588 496h4v2h-4z"/>
<path fill="#0000ff" d="M568 444h2v4h-2zM568 472h2v2h-2zM568 476h2v4h-2zM570 460h4v6h-4zM594 510h2v16h-2zM592 486h2v16h-2zM580 452h2v2h-2zM588 468h4v2h-4zM568 482h2v6h-2zM578 440h2v2h-2zM568 548h2v2h-2zM576 446h2v2h-2zM582 448h2v2h-2zM574 450h2v4h-2zM584 450h2v2h-2zM580 546h2v2h-2zM570 454h6v6h-6zM570 528h4v10h-4zM586 464h2v2h-2zM588 546h4v4h-4zM590 470h2v2h-2zM568 474h6v2h-6zM256 486h4v6h-4zM592 544h2v2h-2zM258 492h2v2h-2zM260 500h2v16h-2zM594 530h2v12h-2zM256 516h2v2h-2zM260 516h4v2h-4zM256 518h8v4h-8zM256 522h10v2h-10zM262 524h4v2h-4zM264 526h2v12h-2zM554 546h6v6h-6zM564 548h2v2h-2zM562 550h8v2h-8zM588 550h2v2h-2zM552 552h8v2h-8zM562 552h2v2h-2zM566 552h4v4h-4zM230 554h2v4h-2zM552 554h2v4h-2zM560 554h4v2h-4zM560 556h10v2h-10zM554 558h4v2h-4zM578 558h10v2h-10z"/>
<path fill="#ff0080" d="M574 468h2v2h-2zM578 448h2v2h-2zM586 470h2v2h-2zM584 456h2v2h-2zM586 506h2v2h-2zM574 474h2v10h-2zM592 514h2v2h-2zM592 524h2v4h-2zM590 516h4v8h-4zM592 530h2v2h-2zM574 518h2v6h-2zM578 498h2v4h-2zM580 456h2v2h-2zM584 510h2v2h-2zM574 546h2v2h-2zM586 512h2v6h-2zM588 472h2v2h-2zM590 476h2v2h-2zM574 490h4v6h-4zM586 502h4v4h-4zM582 504h2v4h-2zM582 508h4v2h-4zM570 512h4v2h-4zM570 514h6v4h-6zM592 536h2v2h-2zM590 532h4v2h-4z"/>
<path fill="#ff00ff" d="M576 456h2v4h-2zM578 450h2v4h-2zM574 484h4v6h-4zM586 472h2v2h-2zM584 458h2v6h-2zM574 470h2v4h-2zM578 494h2v2h-2zM576 482h2v2h-2zM584 504h2v4h-2zM574 548h2v10h-2zM586 498h2v4h-2zM586 474h4v2h-4zM588 476h2v2h-2zM574 498h4v4h-4zM574 496h6v2h-6zM580 502h4v2h-4zM570 508h4v2h-4zM590 514h2v2h-2zM592 534h2v2h-2z"/>
<path fill="#000000" d="M582 462h2v12h-2zM582 492h2v2h-2zM578 468h2v2h-2zM582 474h4v18h-4zM588 484h2v6h-2z"/>
<path fill="#ff0000" d="M574 466h2v2h-2zM574 508h2v2h-2zM582 452h2v2h-2zM574 512h2v2h-2zM592 512h2v2h-2zM574 524h2v8h-2zM570 484h4v18h-4zM576 454h2v2h-2zM578 446h2v2h-2zM582 520h2v2h-2zM576 548h2v6h-2zM574 540h2v6h-2zM570 548h4v8h-4zM570 502h10v2h-10zM570 504h12v4h-12zM578 508h4v2h-4zM586 508h2v4h-2zM570 510h6v2h-6zM580 510h4v2h-4zM580 512h6v4h-6zM592 528h2v2h-2zM588 514h2v4h-2zM582 516h4v2h-4zM582 518h8v2h-8zM586 520h4v4h-4zM586 524h6v2h-6zM590 536h2v2h-2zM590 538h4v2h-4z"/>
<path fill="#ff8000" d="M576 452h2v2h-2zM588 470h2v2h-2zM570 482h4v2h-4zM576 508h2v2h-2zM584 454h2v2h-2zM588 512h2v2h-2zM586 468h2v2h-2zM570 518h4v2h-4zM576 518h2v8h-2zM570 546h4v2h-4zM574 532h2v8h-2zM576 554h2v4h-2zM584 520h2v2h-2zM586 536h2v12h-2zM588 532h2v2h-2zM570 556h4v2h-4zM592 508h2v4h-2zM576 510h4v6h-4zM576 516h6v2h-6zM582 522h4v4h-4zM582 526h10v2h-10zM588 528h4v4h-4zM574 558h2v2h-2zM586 534h4v2h-4z"/>
<path fill="#00c000" d="M258 494h2v4h-2zM570 476h4v2h-4zM576 448h2v2h-2zM570 526h4v2h-4zM592 502h2v2h-2zM578 442h2v2h-2zM582 536h2v2h-2zM580 524h2v4h-2zM580 550h2v2h-2zM576 530h2v8h-2zM578 546h2v2h-2zM576 558h2v2h-2zM574 460h2v2h-2zM590 472h2v2h-2zM570 538h4v4h-4zM568 480h2v2h-2zM256 492h2v2h-2zM258 516h2v2h-2zM256 498h4v18h-4zM592 542h2v2h-2zM580 556h2v2h-2zM594 526h2v4h-2zM582 546h2v2h-2zM578 538h6v8h-6zM588 544h4v2h-4zM564 552h2v4h-2zM588 552h2v6h-2zM554 554h6v4h-6z"/>
<path fill="#ffff00" d="M570 480h4v2h-4zM578 444h2v2h-2zM578 518h4v4h-4zM588 506h2v6h-2zM570 520h4v6h-4zM590 474h2v2h-2zM578 522h2v4h-2zM582 450h2v2h-2zM584 548h4v4h-4zM578 552h2v2h-2zM582 554h2v2h-2zM580 454h2v2h-2zM574 464h2v2h-2zM590 542h2v2h-2zM570 542h4v4h-4zM588 536h2v4h-2zM592 506h2v2h-2zM578 534h4v2h-4zM576 526h4v2h-4zM578 528h10v6h-10zM584 534h2v14h-2zM588 540h6v2h-6zM576 542h2v6h-2zM584 556h4v2h-4zM582 552h6v2h-6zM586 554h2v2h-2z"/>
<path fill="#80ff40" d="M576 450h2v2h-2zM576 528h2v2h-2zM582 534h2v2h-2zM580 522h2v2h-2zM578 536h4v2h-4zM584 452h2v2h-2zM578 550h2v2h-2zM582 550h2v2h-2zM570 478h4v2h-4zM576 538h2v4h-2zM584 554h2v2h-2zM574 462h2v2h-2zM586 466h2v2h-2zM570 558h4v2h-4zM256 494h2v4h-2zM592 504h2v2h-2zM580 552h2v2h-2zM582 556h2v2h-2zM578 554h4v2h-4zM588 542h2v2h-2zM578 548h6v2h-6zM578 556h2v2h-2z"/>
<path fill="#00ffff" d="M30 599h2v2h-2zM80 599h2v2h-2zM120 599h2v2h-2zM136 599h2v2h-2zM154 599h2v2h-2zM234 599h4v2h-4zM276 599h2v2h-2zM282 599h2v2h-2zM344 599h6v2h-6zM352 599h2v2h-2zM366 599h2v2h-2zM394 599h2v2h-2zM402 599h2v2h-2zM410 599h2v2h-2zM426 599h2v2h-2zM430 599h2v2h-2zM456 599h2v2h-2zM460 599h2v2h-2zM466 599h2v2h-2zM496 599h2v2h-2zM540 599h4v2h-4zM548 599h2v2h-2zM554 599h4v2h-4zM598 599h2v2h-2zM604 599h2v2h-2zM610 599h6v2h-6zM636 599h2v2h-2zM656 599h2v2h-2zM668 599h2v2h-2zM682 599h6v2h-6zM712 599h2v2h-2zM724 599h2v2h-2zM732 599h2v2h-2zM748 599h2v2h-2zM580 679h2v4h-2zM586 691h2v2h-2zM586 695h2v4h-2zM576 695h2v8h-2zM570 707h4v4h-4zM576 705h2v14h-2zM572 699h2v8h-2zM572 725h2v2h-2zM586 701h2v4h-2zM592 685h2v4h-2zM588 681h2v4h-2zM528 735h4v10h-4zM590 695h2v4h-2zM564 599h2v2h-2zM530 733h2v2h-2zM556 747h4v6h-4zM592 735h2v6h-2zM558 745h2v2h-2zM544 753h2v2h-2zM560 739h4v4h-4zM250 737h4v4h-4zM560 733h2v2h-2zM568 747h2v4h-2zM254 745h2v4h-2zM530 757h4v6h-4zM536 761h2v2h-2zM548 603h2v2h-2zM250 765h2v2h-2zM594 599h2v2h-2zM264 603h2v2h-2zM254 771h2v4h-2zM538 765h2v6h-2zM570 711h2v8h-2zM266 799h4v2h-4zM540 603h4v2h-4zM254 797h2v2h-2zM268 599h2v2h-2zM260 761h2v2h-2zM564 751h2v2h-2zM540 791h2v4h-2zM562 745h4v6h-4zM544 765h2v2h-2zM550 775h2v8h-2zM594 791h2v2h-2zM560 767h2v2h-2zM542 805h2v8h-2zM594 825h2v2h-2zM544 823h2v4h-2zM560 827h2v4h-2zM30 603h2v2h-2zM44 599h8v2h-8zM68 599h4v2h-4zM76 599h2v2h-2zM80 603h2v2h-2zM86 599h2v2h-2zM100 599h6v2h-6zM108 599h6v2h-6zM116 599h2v2h-2zM120 603h2v2h-2zM136 603h2v2h-2zM148 599h4v2h-4zM154 603h2v2h-2zM180 599h2v2h-2zM196 599h6v2h-6zM204 599h6v2h-6zM216 599h2v2h-2zM234 603h4v2h-4zM252 599h2v2h-2zM262 599h4v2h-4zM268 815h2v8h-2zM276 603h2v2h-2zM282 603h2v2h-2zM286 599h2v2h-2zM340 599h2v2h-2zM344 603h6v2h-6zM352 603h2v2h-2zM356 599h2v2h-2zM366 603h2v2h-2zM388 599h4v2h-4zM394 603h2v2h-2zM398 599h2v2h-2zM402 603h2v2h-2zM410 603h2v2h-2zM416 599h4v2h-4zM422 599h2v2h-2zM426 603h2v2h-2zM430 603h2v2h-2zM456 603h2v2h-2zM460 603h2v2h-2zM466 603h2v2h-2zM472 599h12v2h-12zM490 599h2v2h-2zM496 603h2v2h-2zM510 599h6v2h-6zM540 813h4v6h-4zM548 783h2v18h-2zM554 603h4v2h-4zM564 817h2v4h-2zM594 833h2v2h-2zM598 603h2v2h-2zM604 603h2v2h-2zM610 603h6v2h-6zM622 599h2v2h-2zM630 599h2v2h-2zM636 603h2v2h-2zM652 599h2v2h-2zM656 603h2v2h-2zM660 599h4v2h-4zM668 603h2v2h-2zM674 599h2v2h-2zM682 603h6v2h-6zM712 603h2v2h-2zM724 603h2v2h-2zM732 603h2v2h-2zM748 603h2v2h-2zM44 603h6v2h-6zM100 603h4v2h-4zM110 603h4v2h-4zM176 603h6v2h-6zM198 603h4v2h-4zM206 603h2v2h-2zM264 793h2v2h-2zM296 603h2v2h-2zM416 603h2v2h-2zM420 603h4v2h-4zM472 603h10v2h-10zM510 603h4v2h-4zM520 603h2v2h-2zM578 603h2v2h-2zM660 603h2v2h-2zM664 603h2v2h-2zM736 603h2v2h-2zM574 673h2v6h-2zM580 691h2v2h-2zM588 747h2v2h-2zM592 757h2v8h-2zM586 689h6v2h-6zM586 733h2v14h-2zM590 691h4v4h-4zM576 723h2v4h-2zM590 749h2v2h-2zM572 729h2v4h-2zM570 723h4v2h-4zM570 797h2v8h-2zM566 719h6v2h-6zM574 719h6v2h-6zM566 721h8v2h-8zM576 721h4v2h-4zM566 723h2v8h-2zM582 729h2v2h-2zM584 731h2v2h-2zM530 753h2v4h-2zM560 839h2v2h-2zM528 749h4v4h-4zM250 767h4v2h-4zM560 765h4v2h-4zM560 743h6v2h-6zM254 815h2v2h-2zM528 745h2v4h-2zM558 759h2v2h-2zM562 821h4v2h-4zM556 755h4v4h-4zM568 769h2v18h-2zM544 839h2v2h-2zM556 753h2v2h-2zM256 755h2v4h-2zM542 755h4v10h-4zM530 771h4v2h-4zM258 759h2v2h-2zM562 759h2v2h-2zM260 817h2v10h-2zM536 783h2v4h-2zM558 761h6v4h-6zM260 763h4v2h-4zM530 763h10v2h-10zM250 789h2v10h-2zM262 765h2v2h-2zM530 765h6v2h-6zM538 797h2v4h-2zM532 767h2v4h-2zM250 769h6v2h-6zM546 769h2v8h-2zM530 773h8v4h-8zM550 823h2v2h-2zM532 777h6v2h-6zM544 777h4v6h-4zM532 779h4v4h-4zM534 787h2v6h-2zM552 789h2v30h-2zM540 819h2v4h-2zM238 793h2v10h-2zM264 795h4v2h-4zM264 797h6v2h-6zM252 799h4v8h-4zM266 807h4v8h-4zM266 801h6v6h-6zM542 831h2v6h-2zM252 807h6v2h-6zM254 809h4v2h-4zM254 811h6v2h-6zM254 813h8v2h-8zM258 815h4v2h-4zM552 819h4v2h-4zM552 821h6v2h-6zM324 823h2v6h-2zM554 823h6v2h-6zM562 823h8v2h-8zM548 825h4v2h-4zM554 825h16v2h-16zM228 827h4v6h-4zM546 827h6v4h-6zM262 829h8v8h-8zM546 831h4v2h-4zM232 833h2v8h-2zM534 833h4v4h-4zM266 837h2v2h-2zM534 837h10v2h-10zM228 839h2v2h-2zM592 839h4v2h-4z"/>
<path fill="#00c0ff" d="M588 679h2v2h-2zM572 711h2v2h-2zM578 599h2v2h-2zM572 715h2v6h-2zM580 693h2v2h-2zM526 729h2v6h-2zM592 695h2v2h-2zM530 729h2v4h-2zM592 741h2v2h-2zM260 755h2v2h-2zM534 739h4v2h-4zM534 735h2v4h-2zM542 739h2v2h-2zM250 771h4v4h-4zM252 775h2v2h-2zM250 777h4v2h-4zM534 761h2v2h-2zM546 761h2v8h-2zM536 741h2v6h-2zM252 779h2v2h-2zM236 781h2v4h-2zM266 787h4v4h-4zM534 785h2v2h-2zM250 735h2v2h-2zM538 761h2v2h-2zM548 775h2v8h-2zM252 789h2v10h-2zM548 801h2v4h-2zM250 781h4v8h-4zM562 737h2v2h-2zM566 717h4v2h-4zM546 805h4v4h-4zM560 727h2v4h-2zM546 785h2v10h-2zM324 815h2v8h-2zM534 793h2v4h-2zM236 793h2v8h-2zM534 759h4v2h-4zM594 787h2v4h-2zM532 749h2v8h-2zM538 801h2v4h-2zM178 599h2v2h-2zM228 599h2v2h-2zM296 599h2v2h-2zM360 599h2v2h-2zM420 599h2v2h-2zM520 599h2v2h-2zM578 717h2v2h-2zM64 601h2v2h-2zM38 605h2v2h-2zM176 605h2v2h-2zM358 605h2v2h-2zM664 605h2v2h-2zM676 605h2v2h-2zM736 605h2v2h-2zM574 671h2v2h-2zM588 687h2v2h-2zM576 693h2v2h-2zM580 731h2v2h-2zM592 755h2v2h-2zM572 727h2v2h-2zM566 715h2v2h-2zM566 819h4v4h-4zM586 721h2v6h-2zM560 823h2v2h-2zM526 741h2v2h-2zM530 745h2v2h-2zM584 729h2v2h-2zM250 799h2v4h-2zM534 829h2v2h-2zM556 737h4v8h-4zM562 819h2v2h-2zM534 831h4v2h-4zM542 765h2v4h-2zM536 787h2v2h-2zM542 741h4v10h-4zM556 745h2v2h-2zM530 747h4v2h-4zM590 747h2v2h-2zM532 833h2v6h-2zM540 751h6v2h-6zM256 753h2v2h-2zM528 753h2v4h-2zM540 753h4v2h-4zM564 753h2v6h-2zM260 759h2v2h-2zM258 757h4v2h-4zM262 761h2v2h-2zM538 835h2v2h-2zM546 825h2v2h-2zM550 769h2v6h-2zM250 813h4v4h-4zM252 809h2v4h-2zM548 809h2v6h-2zM552 777h2v6h-2zM236 831h2v2h-2zM266 783h2v4h-2zM532 783h4v2h-4zM544 783h4v2h-4zM552 783h4v6h-4zM236 785h4v8h-4zM266 793h4v2h-4zM540 787h2v4h-2zM568 787h2v2h-2zM594 831h2v2h-2zM554 789h2v2h-2zM264 791h6v2h-6zM268 795h2v2h-2zM238 803h4v6h-4zM546 823h4v2h-4zM270 807h2v14h-2zM240 809h2v8h-2zM324 829h2v10h-2zM544 815h6v8h-6zM230 817h2v4h-2zM254 817h2v4h-2zM228 821h4v6h-4zM270 821h4v2h-4zM268 823h6v6h-6zM270 829h6v6h-6zM226 833h2v4h-2zM234 833h4v6h-4zM258 833h2v4h-2zM534 839h8v2h-8z"/>
<path fill="#00c000" d="M574 679h2v22h-2zM574 705h2v14h-2zM578 601h2v2h-2zM574 721h2v6h-2zM580 683h2v8h-2zM568 723h2v2h-2zM586 693h2v2h-2zM568 743h2v4h-2zM568 741h6v2h-6zM250 741h4v8h-4zM560 745h2v6h-2zM568 751h2v2h-2zM568 761h2v2h-2zM592 689h2v2h-2zM262 603h2v2h-2zM254 767h2v2h-2zM592 765h2v6h-2zM538 773h2v6h-2zM594 601h2v4h-2zM256 759h2v2h-2zM256 761h4v4h-4zM262 601h4v2h-4zM594 793h2v10h-2zM544 767h2v10h-2zM560 751h4v8h-4zM594 823h2v2h-2zM552 823h2v4h-2zM590 751h2v4h-2zM30 601h2v2h-2zM38 601h2v4h-2zM44 601h8v2h-8zM68 601h4v4h-4zM76 601h2v4h-2zM80 601h2v2h-2zM86 601h2v4h-2zM100 601h6v2h-6zM108 601h6v2h-6zM116 601h2v4h-2zM120 601h2v2h-2zM136 601h2v2h-2zM148 601h4v4h-4zM154 601h2v2h-2zM176 601h6v2h-6zM196 601h6v2h-6zM204 601h6v2h-6zM216 601h2v4h-2zM228 601h2v4h-2zM234 601h4v2h-4zM252 601h2v4h-2zM262 813h4v2h-4zM268 601h2v4h-2zM276 601h2v2h-2zM282 601h2v2h-2zM286 601h2v4h-2zM296 601h2v2h-2zM340 601h2v4h-2zM344 601h6v2h-6zM352 601h2v2h-2zM356 601h6v2h-6zM366 601h2v2h-2zM388 601h4v4h-4zM394 601h2v2h-2zM398 601h2v4h-2zM402 601h2v2h-2zM410 601h2v2h-2zM416 601h8v2h-8zM426 601h2v2h-2zM430 601h2v2h-2zM456 601h2v2h-2zM460 601h2v2h-2zM466 601h2v2h-2zM472 601h12v2h-12zM490 601h2v4h-2zM496 601h2v2h-2zM510 601h6v2h-6zM520 601h2v2h-2zM540 601h4v2h-4zM548 601h2v2h-2zM554 601h4v2h-4zM564 601h2v4h-2zM578 723h2v2h-2zM594 835h2v2h-2zM598 601h2v2h-2zM604 601h2v2h-2zM610 601h6v2h-6zM622 601h2v4h-2zM630 601h2v4h-2zM636 601h2v2h-2zM652 601h2v4h-2zM656 601h2v2h-2zM660 601h6v2h-6zM668 601h2v2h-2zM674 601h4v4h-4zM682 601h6v2h-6zM712 601h2v2h-2zM724 601h2v2h-2zM732 601h2v2h-2zM736 601h2v2h-2zM748 601h2v2h-2zM50 603h2v2h-2zM64 603h2v2h-2zM104 603h2v2h-2zM108 603h2v2h-2zM196 603h2v2h-2zM204 603h2v2h-2zM208 603h2v2h-2zM262 771h2v26h-2zM356 603h4v2h-4zM418 603h2v2h-2zM482 603h2v2h-2zM514 603h2v2h-2zM662 603h2v2h-2zM574 731h2v2h-2zM580 733h2v2h-2zM592 779h2v4h-2zM586 747h2v2h-2zM576 703h2v2h-2zM568 765h2v4h-2zM568 725h4v8h-4zM574 727h4v4h-4zM568 733h8v8h-8zM584 733h2v2h-2zM250 757h4v8h-4zM568 753h6v4h-6zM572 743h2v10h-2zM560 759h2v2h-2zM250 749h6v8h-6zM588 749h2v2h-2zM560 833h4v4h-4zM590 839h2v2h-2zM256 803h2v2h-2zM256 805h4v2h-4zM252 765h10v2h-10zM536 765h2v2h-2zM254 775h2v22h-2zM260 767h4v4h-4zM530 767h2v4h-2zM534 767h4v4h-4zM544 831h2v2h-2zM534 771h6v2h-6zM538 783h2v12h-2zM536 779h4v4h-4zM550 783h2v40h-2zM570 793h2v4h-2zM538 795h4v2h-4zM540 797h2v16h-2zM264 799h2v10h-2zM258 807h4v2h-4zM258 809h8v2h-8zM260 811h6v2h-6zM262 815h6v14h-6zM542 819h2v8h-2zM552 837h2v2h-2zM542 827h4v4h-4zM552 827h8v4h-8zM562 827h8v4h-8zM550 831h20v2h-20zM228 833h4v6h-4zM544 833h10v4h-10zM556 833h2v2h-2zM544 837h6v2h-6zM560 837h6v2h-6zM592 837h4v2h-4zM230 839h2v2h-2zM546 839h14v2h-14zM562 839h6v2h-6z"/>
<path fill="#0000c0" d="M542 733h2v2h-2zM526 737h2v4h-2zM566 731h2v2h-2zM540 747h2v2h-2zM542 737h2v2h-2zM560 737h2v2h-2zM250 775h2v2h-2zM540 755h2v6h-2zM542 769h2v4h-2zM244 779h2v2h-2zM554 779h2v4h-2zM534 741h2v2h-2zM236 779h2v2h-2zM554 791h2v8h-2zM248 801h2v2h-2zM544 793h2v2h-2zM544 795h4v6h-4zM250 779h2v2h-2zM554 801h2v8h-2zM326 807h2v6h-2zM240 793h2v10h-2zM256 815h2v2h-2zM556 759h2v2h-2zM558 735h4v2h-4zM540 779h2v4h-2zM594 779h2v8h-2zM532 743h2v4h-2zM252 827h2v2h-2zM256 819h2v2h-2zM260 827h2v2h-2zM226 827h2v6h-2zM532 829h2v4h-2zM542 783h2v2h-2zM578 715h2v2h-2zM580 729h2v2h-2zM566 753h2v6h-2zM542 839h2v2h-2zM558 821h4v2h-4zM526 743h2v2h-2zM560 769h2v2h-2zM534 797h2v4h-2zM564 741h2v2h-2zM532 839h2v2h-2zM588 745h2v2h-2zM540 823h2v6h-2zM592 749h2v6h-2zM558 753h2v2h-2zM258 755h2v2h-2zM536 757h2v2h-2zM546 757h2v4h-2zM556 819h2v2h-2zM548 771h2v4h-2zM250 811h2v2h-2zM552 775h2v2h-2zM530 777h2v2h-2zM236 801h2v4h-2zM244 785h2v4h-2zM554 811h2v8h-2zM594 827h2v2h-2zM244 781h4v4h-4zM266 781h2v2h-2zM268 785h2v2h-2zM540 785h6v2h-6zM542 787h4v6h-4zM242 789h8v4h-8zM264 789h2v2h-2zM568 789h2v10h-2zM240 817h2v4h-2zM244 793h6v4h-6zM544 805h2v4h-2zM544 809h4v6h-4zM246 797h4v4h-4zM270 797h2v4h-2zM248 805h2v2h-2zM542 801h6v4h-6zM248 803h4v2h-4zM538 805h2v2h-2zM568 805h4v2h-4zM272 807h2v14h-2zM326 815h2v16h-2zM230 811h2v2h-2zM228 813h4v4h-4zM324 813h4v2h-4zM256 833h2v2h-2zM562 815h4v2h-4zM228 817h2v4h-2zM250 817h4v4h-4zM256 817h4v2h-4zM562 817h2v2h-2zM566 817h4v2h-4zM250 821h6v2h-6zM252 823h4v4h-4zM226 839h2v2h-2zM252 833h2v2h-2zM260 833h2v4h-2zM274 827h2v2h-2zM232 829h6v2h-6zM258 829h4v2h-4zM276 829h2v6h-2zM232 831h4v2h-4zM256 831h6v2h-6zM322 833h2v6h-2zM254 835h4v2h-4zM270 835h8v2h-8zM238 837h2v2h-2zM254 837h12v2h-12zM268 837h10v2h-10zM596 837h2v4h-2zM234 839h4v2h-4zM258 839h14v2h-14zM324 839h2v2h-2z"/>
<path fill="#ffff00" d="M574 701h2v4h-2zM568 757h6v4h-6zM592 771h2v8h-2zM570 743h2v10h-2zM260 797h4v2h-4zM594 803h2v10h-2zM578 725h2v4h-2zM592 783h2v6h-2zM580 735h2v2h-2zM590 755h2v2h-2zM588 751h2v2h-2zM574 741h2v6h-2zM578 823h2v2h-2zM576 731h2v4h-2zM582 731h2v2h-2zM580 829h2v2h-2zM584 735h2v2h-2zM570 787h2v6h-2zM586 749h2v2h-2zM588 839h2v2h-2zM590 837h2v2h-2zM254 757h2v8h-2zM568 763h6v2h-6zM570 761h4v2h-4zM256 767h4v4h-4zM256 771h6v6h-6zM592 827h2v2h-2zM260 777h2v20h-2zM256 795h2v4h-2zM260 805h4v2h-4zM256 799h8v4h-8zM258 803h6v2h-6zM594 821h2v2h-2zM262 807h2v2h-2zM578 825h4v4h-4zM590 829h4v8h-4zM554 833h2v2h-2zM558 833h2v2h-2zM564 833h6v4h-6zM554 835h6v4h-6zM550 837h2v2h-2zM566 837h4v2h-4zM568 839h2v2h-2zM578 839h8v2h-8z"/>
<path fill="#a000a0" d="M578 745h6v2h-6zM578 755h4v12h-4zM588 765h4v4h-4zM584 755h2v14h-2zM582 741h2v4h-2zM578 753h6v2h-6zM576 747h8v6h-8zM578 773h4v4h-4zM584 787h2v2h-2zM588 777h4v6h-4zM578 767h2v6h-2zM584 769h8v8h-8zM580 777h6v10h-6zM590 783h2v22h-2zM580 787h2v6h-2zM574 795h2v44h-2zM592 813h2v8h-2z"/>
<path fill="#ff0000" d="M586 755h2v2h-2zM586 765h2v4h-2zM586 757h4v4h-4zM582 737h2v4h-2zM586 777h2v6h-2zM586 783h4v4h-4zM586 761h6v4h-6zM576 745h2v2h-2zM586 805h8v8h-8zM586 787h2v2h-2zM572 795h2v12h-2zM574 751h2v2h-2zM578 735h2v4h-2zM582 787h2v2h-2zM576 739h4v2h-4zM576 741h6v4h-6zM576 821h2v18h-2zM584 747h2v8h-2zM574 839h2v2h-2zM574 753h4v20h-4zM586 823h2v16h-2zM586 803h4v2h-4zM586 813h6v8h-6zM570 773h8v4h-8zM570 777h10v6h-10zM572 783h8v10h-8zM582 789h6v4h-6zM572 793h16v2h-16zM572 837h2v2h-2zM576 795h14v8h-14zM592 801h2v4h-2zM578 803h6v10h-6zM586 821h8v2h-8zM580 813h4v2h-4zM580 815h2v6h-2zM570 823h4v14h-4zM590 823h2v2h-2z"/>
<path fill="#e800e8" d="M582 755h2v12h-2zM582 773h2v4h-2zM580 767h4v6h-4z"/>
<path fill="#ff8000" d="M588 755h2v2h-2zM576 735h2v4h-2zM584 737h2v10h-2zM570 765h4v8h-4zM588 787h2v8h-2zM592 789h2v12h-2zM582 815h4v6h-4zM578 729h2v6h-2zM588 823h2v2h-2zM578 821h8v2h-8zM570 783h2v4h-2zM570 807h4v16h-4zM576 803h2v10h-2zM586 751h2v2h-2zM578 829h2v2h-2zM582 733h2v4h-2zM576 839h2v2h-2zM580 737h2v4h-2zM584 803h2v12h-2zM574 747h2v4h-2zM586 839h2v2h-2zM586 753h4v2h-4zM588 829h2v10h-2zM590 757h2v4h-2zM570 839h4v2h-4zM256 777h4v18h-4zM570 837h2v2h-2zM592 823h2v2h-2zM258 795h2v4h-2zM576 813h4v8h-4zM594 813h2v8h-2zM582 825h4v6h-4zM578 831h8v8h-8zM580 823h6v2h-6zM588 825h6v2h-6zM588 827h4v2h-4z"/>
<path fill="#ffffff" d="M244 775h2v4h-2zM242 793h2v4h-2zM568 799h2v4h-2zM554 799h2v2h-2zM238 809h2v2h-2zM248 783h2v2h-2zM248 807h4v4h-4zM250 805h2v2h-2zM238 817h2v4h-2zM326 805h2v2h-2zM250 825h2v4h-2zM540 783h2v2h-2zM326 831h2v2h-2zM224 827h2v10h-2zM572 713h2v2h-2zM244 797h2v4h-2zM248 821h2v2h-2zM268 783h2v2h-2zM540 835h2v2h-2zM246 785h4v4h-4zM532 785h2v2h-2zM240 789h2v4h-2zM536 789h2v12h-2zM242 803h2v8h-2zM542 793h2v8h-2zM270 795h2v2h-2zM554 809h2v2h-2zM568 807h2v2h-2zM272 803h2v4h-2zM236 805h2v4h-2zM250 833h2v2h-2zM326 837h2v4h-2zM230 807h2v4h-2zM248 823h4v2h-4zM238 829h2v6h-2zM538 809h2v4h-2zM228 811h2v2h-2zM242 811h4v2h-4zM324 811h2v2h-2zM242 813h6v4h-6zM562 813h4v2h-4zM274 815h2v12h-2zM566 815h4v2h-4zM242 817h8v4h-8zM556 817h2v2h-2zM258 819h2v2h-2zM558 819h2v2h-2zM234 821h8v2h-8zM256 821h4v6h-4zM322 821h2v12h-2zM232 823h8v6h-8zM226 825h2v2h-2zM224 839h2v2h-2zM254 827h6v2h-6zM276 827h2v2h-2zM534 827h2v2h-2zM250 829h8v2h-8zM278 829h2v10h-2zM536 829h6v2h-6zM594 829h2v2h-2zM250 831h6v2h-6zM538 831h4v4h-4zM254 833h2v2h-2zM530 833h2v8h-2zM238 835h16v2h-16zM106 837h2v2h-2zM110 837h2v2h-2zM224 837h4v2h-4zM240 837h14v2h-14zM320 837h2v2h-2zM390 837h10v2h-10zM684 837h2v2h-2zM688 837h2v2h-2zM694 837h2v4h-2zM102 839h6v2h-6zM110 839h6v2h-6zM238 839h20v2h-20zM272 839h8v2h-8zM320 839h4v2h-4zM390 839h14v2h-14zM684 839h8v2h-8z"/>
</g>
<g fill="#000">
<rect x="30" y="25" width="720" height="1"/>
<rect x="30" y="40" width="720" height="1"/>
<rect x="30" y="100" width="720" height="1"/>
<rect x="30" y="160" width="720" height="1"/>
<rect x="30" y="220" width="720" height="1"/>
<rect x="30" y="280" width="720" height="1"/>
<rect x="30" y="25" width="1" height="256"/>
<rect x="210" y="25" width="1" height="256"/>
<rect x="390" y="25" width="1" height="256"/>
<rect x="570" y="25" width="1" height="256"/>
<rect x="749" y="25" width="1" height="256"/>
<rect x="30" y="306" width="720" height="1"/>
<rect x="30" y="321" width="720" height="1"/>
<rect x="30" y="381" width="720" height="1"/>
<rect x="30" y="441" width="720" height="1"/>
<rect x="30" y="501" width="720" height="1"/>
<rect x="30" y="561" width="720" height="1"/>
<rect x="30" y="306" width="1" height="256"/>
<rect x="210" y="306" width="1" height="256"/>
<rect x="390" y="306" width="1" height="256"/>
<rect x="570" y="306" width="1" height="256"/>
<rect x="749" y="306" width="1" height="256"/>
<rect x="30" y="587" width="720" height="1"/>
<rect x="30" y="602" width="720" height="1"/>
<rect x="30" y="662" width="720" height="1"/>
<rect x="30" y="722" width="720" height="1"/>
<rect x="30" y="782" width="720" height="1"/>
<rect x="30" y="842" width="720" height="1"/>
<rect x="30" y="587" width="1" height="256"/>
<rect x="210" y="587" width="1" height="256"/>
<rect x="390" y="587" width="1" height="256"/>
<rect x="570" y="587" width="1" height="256"/>
<rect x="749" y="587" width="1" height="256"/>
</g>
<text class="sa" font-size="25" stroke="#000" stroke-width="0.5" xml:space="preserve"><tspan x="241" textLength="48.8" lengthAdjust="spacingAndGlyphs" y="21">2026</tspan><tspan x="290.5" textLength="12" lengthAdjust="spacingAndGlyphs" y="21.4">-</tspan><tspan x="305" textLength="23.2" lengthAdjust="spacingAndGlyphs" y="21">01</tspan><tspan x="330.5" textLength="12" lengthAdjust="spacingAndGlyphs" y="21.4">-</tspan><tspan x="344.8" textLength="23.2" lengthAdjust="spacingAndGlyphs" y="21">21</tspan> <tspan x="387.2" textLength="51.5" lengthAdjust="spacingAndGlyphs" y="21">22:00</tspan><tspan x="443" textLength="12.5" lengthAdjust="spacingAndGlyphs" y="21.4">-</tspan><tspan x="457.5" textLength="55" lengthAdjust="spacingAndGlyphs" y="21">23:00</tspan> <tspan x="518.5" textLength="44.5" lengthAdjust="spacingAndGlyphs" class="se" font-size="27" y="21">UTC</tspan></text>
<text class="se" font-size="26.5" stroke="#000" stroke-width="0.5" transform="translate(18.8 225) rotate(-90)" textLength="129" lengthAdjust="spacingAndGlyphs">Fall Velocity</text>
<rect x="1" y="95" width="24" height="1" fill="#000"/>
<text class="se" font-size="26.5" stroke="#000" stroke-width="0.5" transform="translate(18.8 512.3) rotate(-90)" textLength="141.5" lengthAdjust="spacingAndGlyphs">Rain Intensity</text>
<rect x="1" y="370" width="24" height="1" fill="#000"/>
<text class="se" font-size="26.5" stroke="#000" stroke-width="0.5" transform="translate(18.8 779) rotate(-90)" textLength="113" lengthAdjust="spacingAndGlyphs">Reflectivity</text>
<rect x="1" y="665" width="24" height="1" fill="#000"/>
<text class="sa" x="31" y="294" font-size="12.5" text-anchor="middle" textLength="27.8" lengthAdjust="spacingAndGlyphs" stroke="#000" stroke-width="0.3">22:00</text>
<text class="sa" x="211" y="294" font-size="12.5" text-anchor="middle" textLength="27.8" lengthAdjust="spacingAndGlyphs" stroke="#000" stroke-width="0.3">22:15</text>
<text class="sa" x="391" y="294" font-size="12.5" text-anchor="middle" textLength="27.8" lengthAdjust="spacingAndGlyphs" stroke="#000" stroke-width="0.3">22:30</text>
<text class="sa" x="571" y="294" font-size="12.5" text-anchor="middle" textLength="27.8" lengthAdjust="spacingAndGlyphs" stroke="#000" stroke-width="0.3">22:45</text>
<text class="sa" x="751" y="294" font-size="12.5" text-anchor="middle" textLength="27.8" lengthAdjust="spacingAndGlyphs" stroke="#000" stroke-width="0.3">23:00</text>
<text class="se" x="753.3" y="46.8" font-size="13.2" textLength="24.8" lengthAdjust="spacingAndGlyphs" stroke="#000" stroke-width="0.3">3 km</text>
<text class="se" x="753.3" y="125.9" font-size="13.2" textLength="24.8" lengthAdjust="spacingAndGlyphs" stroke="#000" stroke-width="0.3">2 km</text>
<text class="se" x="753.3" y="207" font-size="13.2" textLength="24.8" lengthAdjust="spacingAndGlyphs" stroke="#000" stroke-width="0.3">1 km</text>
<text class="se" x="753.3" y="284.8" font-size="13.2" textLength="24.8" lengthAdjust="spacingAndGlyphs" stroke="#000" stroke-width="0.3">0 km</text>
<text class="sa" x="31" y="574" font-size="12.5" text-anchor="middle" textLength="27.8" lengthAdjust="spacingAndGlyphs" stroke="#000" stroke-width="0.3">22:00</text>
<text class="sa" x="211" y="574" font-size="12.5" text-anchor="middle" textLength="27.8" lengthAdjust="spacingAndGlyphs" stroke="#000" stroke-width="0.3">22:15</text>
<text class="sa" x="391" y="574" font-size="12.5" text-anchor="middle" textLength="27.8" lengthAdjust="spacingAndGlyphs" stroke="#000" stroke-width="0.3">22:30</text>
<text class="sa" x="571" y="574" font-size="12.5" text-anchor="middle" textLength="27.8" lengthAdjust="spacingAndGlyphs" stroke="#000" stroke-width="0.3">22:45</text>
<text class="sa" x="751" y="574" font-size="12.5" text-anchor="middle" textLength="27.8" lengthAdjust="spacingAndGlyphs" stroke="#000" stroke-width="0.3">23:00</text>
<text class="se" x="753.3" y="326.8" font-size="13.2" textLength="24.8" lengthAdjust="spacingAndGlyphs" stroke="#000" stroke-width="0.3">3 km</text>
<text class="se" x="753.3" y="405.9" font-size="13.2" textLength="24.8" lengthAdjust="spacingAndGlyphs" stroke="#000" stroke-width="0.3">2 km</text>
<text class="se" x="753.3" y="487" font-size="13.2" textLength="24.8" lengthAdjust="spacingAndGlyphs" stroke="#000" stroke-width="0.3">1 km</text>
<text class="se" x="753.3" y="564.8" font-size="13.2" textLength="24.8" lengthAdjust="spacingAndGlyphs" stroke="#000" stroke-width="0.3">0 km</text>
<text class="sa" x="31" y="854" font-size="12.5" text-anchor="middle" textLength="27.8" lengthAdjust="spacingAndGlyphs" stroke="#000" stroke-width="0.3">22:00</text>
<text class="sa" x="211" y="854" font-size="12.5" text-anchor="middle" textLength="27.8" lengthAdjust="spacingAndGlyphs" stroke="#000" stroke-width="0.3">22:15</text>
<text class="sa" x="391" y="854" font-size="12.5" text-anchor="middle" textLength="27.8" lengthAdjust="spacingAndGlyphs" stroke="#000" stroke-width="0.3">22:30</text>
<text class="sa" x="571" y="854" font-size="12.5" text-anchor="middle" textLength="27.8" lengthAdjust="spacingAndGlyphs" stroke="#000" stroke-width="0.3">22:45</text>
<text class="sa" x="751" y="854" font-size="12.5" text-anchor="middle" textLength="27.8" lengthAdjust="spacingAndGlyphs" stroke="#000" stroke-width="0.3">23:00</text>
<text class="se" x="753.3" y="606.8" font-size="13.2" textLength="24.8" lengthAdjust="spacingAndGlyphs" stroke="#000" stroke-width="0.3">3 km</text>
<text class="se" x="753.3" y="685.9" font-size="13.2" textLength="24.8" lengthAdjust="spacingAndGlyphs" stroke="#000" stroke-width="0.3">2 km</text>
<text class="se" x="753.3" y="767" font-size="13.2" textLength="24.8" lengthAdjust="spacingAndGlyphs" stroke="#000" stroke-width="0.3">1 km</text>
<text class="se" x="753.3" y="844.8" font-size="13.2" textLength="24.8" lengthAdjust="spacingAndGlyphs" stroke="#000" stroke-width="0.3">0 km</text>
<rect x="784" y="78" width="31" height="13" fill="#ff00ff"/>
<rect x="784" y="91" width="31" height="14" fill="#ff0000"/>
<rect x="784" y="105" width="31" height="13" fill="#ff8000"/>
<rect x="784" y="118" width="31" height="14" fill="#ffff00"/>
<rect x="784" y="132" width="31" height="14" fill="#80ff00"/>
<rect x="784" y="146" width="31" height="13" fill="#00c000"/>
<rect x="784" y="159" width="31" height="14" fill="#00ffff"/>
<rect x="784" y="173" width="31" height="14" fill="#0080ff"/>
<rect x="784" y="187" width="31" height="13" fill="#0000ff"/>
<rect x="784" y="214" width="31" height="14" fill="#e0e0e0"/>
<text class="se" x="801" y="76" font-size="12.5" textLength="17" lengthAdjust="spacingAndGlyphs" stroke="#000" stroke-width="0.3">m/s</text>
<text class="sa" x="817.6" y="93.6" font-size="12.5" textLength="14.8" lengthAdjust="spacingAndGlyphs" stroke="#000" stroke-width="0.3">8.0</text>
<text class="sa" x="817.6" y="107.6" font-size="12.5" textLength="14.8" lengthAdjust="spacingAndGlyphs" stroke="#000" stroke-width="0.3">7.0</text>
<text class="sa" x="817.6" y="121.6" font-size="12.5" textLength="14.8" lengthAdjust="spacingAndGlyphs" stroke="#000" stroke-width="0.3">6.0</text>
<text class="sa" x="817.6" y="135.6" font-size="12.5" textLength="14.8" lengthAdjust="spacingAndGlyphs" stroke="#000" stroke-width="0.3">5.0</text>
<text class="sa" x="817.6" y="149.6" font-size="12.5" textLength="14.8" lengthAdjust="spacingAndGlyphs" stroke="#000" stroke-width="0.3">4.0</text>
<text class="sa" x="817.6" y="163.6" font-size="12.5" textLength="14.8" lengthAdjust="spacingAndGlyphs" stroke="#000" stroke-width="0.3">3.0</text>
<text class="sa" x="817.6" y="177.6" font-size="12.5" textLength="14.8" lengthAdjust="spacingAndGlyphs" stroke="#000" stroke-width="0.3">2.0</text>
<text class="sa" x="817.6" y="191.6" font-size="12.5" textLength="14.8" lengthAdjust="spacingAndGlyphs" stroke="#000" stroke-width="0.3">1.0</text>
<text class="sa" x="817.6" y="205.6" font-size="12.5" textLength="14.8" lengthAdjust="spacingAndGlyphs" stroke="#000" stroke-width="0.3">0.0</text>
<text class="se" x="818.5" y="220" font-size="12.5" stroke="#000" stroke-width="0.3">miss</text>
<rect x="784" y="359" width="31" height="9" fill="#000000"/>
<rect x="784" y="368" width="31" height="9" fill="#600060"/>
<rect x="784" y="377" width="31" height="10" fill="#b000b0"/>
<rect x="784" y="387" width="31" height="9" fill="#ff00ff"/>
<rect x="784" y="396" width="31" height="9" fill="#ff0080"/>
<rect x="784" y="405" width="31" height="10" fill="#ff0000"/>
<rect x="784" y="415" width="31" height="9" fill="#ff8000"/>
<rect x="784" y="424" width="31" height="10" fill="#ffff00"/>
<rect x="784" y="434" width="31" height="9" fill="#80ff40"/>
<rect x="784" y="443" width="31" height="9" fill="#00c000"/>
<rect x="784" y="452" width="31" height="10" fill="#0000ff"/>
<rect x="784" y="462" width="31" height="9" fill="#0080ff"/>
<rect x="784" y="471" width="31" height="9" fill="#00ffff"/>
<rect x="784" y="480" width="31" height="10" fill="#80ffff"/>
<rect x="784" y="499" width="31" height="9" fill="#e0e0e0"/>
<text class="se" x="801" y="356" font-size="12.5" textLength="31" lengthAdjust="spacingAndGlyphs" stroke="#000" stroke-width="0.3">mm/hr</text>
<text class="sa" x="817.6" y="368.6" font-size="12.5" textLength="21" lengthAdjust="spacingAndGlyphs" stroke="#000" stroke-width="0.3">48.0</text>
<text class="sa" x="817.6" y="388.6" font-size="12.5" textLength="21" lengthAdjust="spacingAndGlyphs" stroke="#000" stroke-width="0.3">12.0</text>
<text class="sa" x="817.6" y="407.6" font-size="12.5" textLength="14.8" lengthAdjust="spacingAndGlyphs" stroke="#000" stroke-width="0.3">6.0</text>
<text class="sa" x="817.6" y="427.6" font-size="12.5" textLength="14.8" lengthAdjust="spacingAndGlyphs" stroke="#000" stroke-width="0.3">3.0</text>
<text class="sa" x="817.6" y="446.6" font-size="12.5" textLength="14.8" lengthAdjust="spacingAndGlyphs" stroke="#000" stroke-width="0.3">1.5</text>
<text class="sa" x="817.6" y="466.6" font-size="12.5" textLength="14.8" lengthAdjust="spacingAndGlyphs" stroke="#000" stroke-width="0.3">0.5</text>
<text class="sa" x="817.6" y="484.6" font-size="12.5" textLength="14.8" lengthAdjust="spacingAndGlyphs" stroke="#000" stroke-width="0.3">0.1</text>
<text class="sa" x="817.6" y="495.1" font-size="12.5" textLength="14.8" lengthAdjust="spacingAndGlyphs" stroke="#000" stroke-width="0.3">0.0</text>
<text class="se" x="818.5" y="504" font-size="12.5" stroke="#000" stroke-width="0.3">miss</text>
<rect x="784" y="640" width="31" height="12" fill="#a040a0"/>
<rect x="784" y="652" width="31" height="13" fill="#e800e8"/>
<rect x="784" y="665" width="31" height="12" fill="#a000a0"/>
<rect x="784" y="677" width="31" height="13" fill="#ff0000"/>
<rect x="784" y="690" width="31" height="12" fill="#ff8000"/>
<rect x="784" y="702" width="31" height="13" fill="#ffff00"/>
<rect x="784" y="715" width="31" height="12" fill="#00c000"/>
<rect x="784" y="727" width="31" height="13" fill="#00ffff"/>
<rect x="784" y="740" width="31" height="12" fill="#00c0ff"/>
<rect x="784" y="752" width="31" height="13" fill="#0000c0"/>
<rect x="784" y="777" width="31" height="13" fill="#e0e0e0"/>
<text class="se" x="801" y="636.5" font-size="12.5" textLength="20" lengthAdjust="spacingAndGlyphs" stroke="#000" stroke-width="0.3">dBZ</text>
<text class="sa" x="818.6" y="657.1" font-size="12.5" textLength="21" lengthAdjust="spacingAndGlyphs" stroke="#000" stroke-width="0.3">40.0</text>
<text class="sa" x="818.6" y="669.6" font-size="12.5" textLength="21" lengthAdjust="spacingAndGlyphs" stroke="#000" stroke-width="0.3">35.0</text>
<text class="sa" x="818.6" y="682.1" font-size="12.5" textLength="21" lengthAdjust="spacingAndGlyphs" stroke="#000" stroke-width="0.3">30.0</text>
<text class="sa" x="818.6" y="694.6" font-size="12.5" textLength="21" lengthAdjust="spacingAndGlyphs" stroke="#000" stroke-width="0.3">25.0</text>
<text class="sa" x="818.6" y="707.1" font-size="12.5" textLength="21" lengthAdjust="spacingAndGlyphs" stroke="#000" stroke-width="0.3">20.0</text>
<text class="sa" x="818.6" y="719.6" font-size="12.5" textLength="21" lengthAdjust="spacingAndGlyphs" stroke="#000" stroke-width="0.3">15.0</text>
<text class="sa" x="818.6" y="732.6" font-size="12.5" textLength="21" lengthAdjust="spacingAndGlyphs" stroke="#000" stroke-width="0.3">10.0</text>
<text class="sa" x="818.6" y="745.1" font-size="12.5" textLength="14.8" lengthAdjust="spacingAndGlyphs" stroke="#000" stroke-width="0.3">5.0</text>
<text class="sa" x="818.6" y="757.6" font-size="12.5" textLength="14.8" lengthAdjust="spacingAndGlyphs" stroke="#000" stroke-width="0.3">0.0</text>
<text class="se" x="819.5" y="778.5" font-size="12.5" stroke="#000" stroke-width="0.3">none</text>
<text class="sa" font-size="12.5" stroke="#000" stroke-width="0.3"><tspan x="818.2" y="770" textLength="8" lengthAdjust="spacingAndGlyphs">-</tspan><tspan x="826.3" y="770" textLength="14.8" lengthAdjust="spacingAndGlyphs">5.0</tspan></text>
</svg>
</body></html>
